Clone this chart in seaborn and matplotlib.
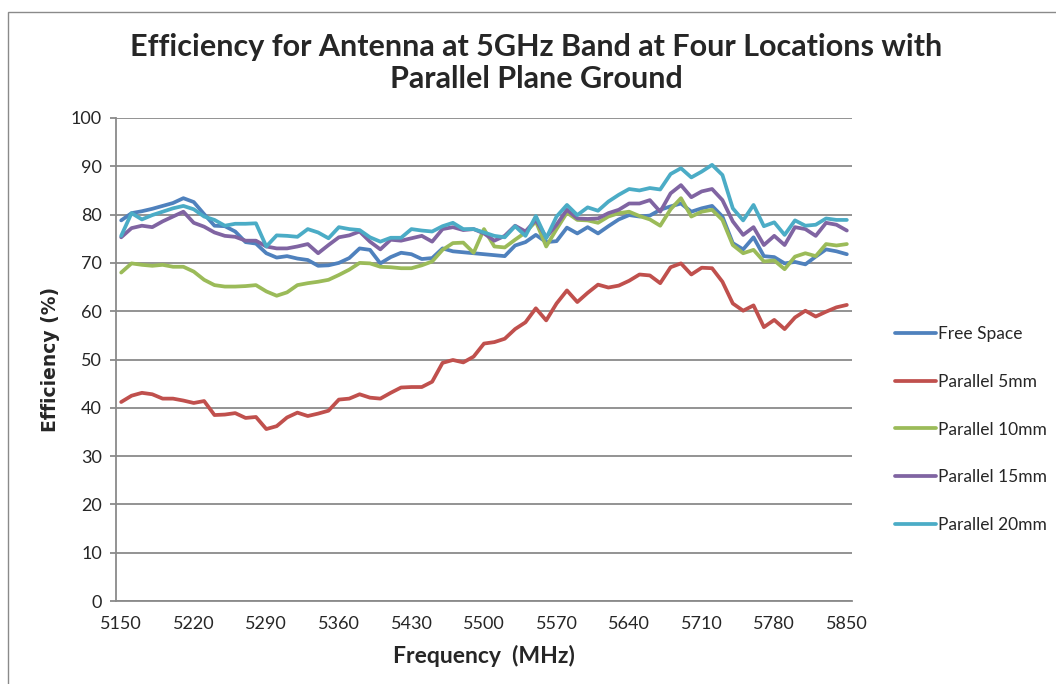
import numpy as np
import pandas as pd
import seaborn as sns
import matplotlib.pyplot as plt
from matplotlib.patches import Rectangle

# frequency axis, one point every 10 MHz
freq = np.arange(5150, 5851, 10)

free_space = [78.8, 80.3, 80.7, 81.2, 81.8, 82.4, 83.4, 82.6, 80.1, 77.7,
              77.6, 76.5, 74.3, 74.0, 72.0, 71.1, 71.4, 70.9, 70.6, 69.4,
              69.5, 70.0, 71.0, 73.0, 72.7, 69.9, 71.2, 72.1, 71.8, 70.8,
              71.0, 73.0, 72.4, 72.2, 72.0, 71.8, 71.6, 71.4, 73.6, 74.3,
              75.8, 74.3, 74.5, 77.3, 76.1, 77.4, 76.1, 77.6, 79.0, 79.9,
              79.6, 79.8, 81.0, 81.7, 82.3, 80.6, 81.3, 81.8, 79.6, 74.1,
              72.8, 75.3, 71.4, 71.2, 69.9, 70.2, 69.7, 71.3, 72.8, 72.4,
              71.8]
parallel_5 = [41.2, 42.5, 43.1, 42.8, 41.9, 41.9, 41.5, 41.0, 41.4, 38.5,
              38.6, 38.9, 37.9, 38.1, 35.6, 36.2, 38.0, 39.0, 38.3, 38.8,
              39.4, 41.7, 41.9, 42.8, 42.1, 41.9, 43.1, 44.2, 44.3, 44.3,
              45.4, 49.3, 49.9, 49.4, 50.6, 53.3, 53.6, 54.3, 56.3, 57.7,
              60.6, 58.1, 61.6, 64.3, 61.9, 63.8, 65.5, 64.9, 65.3, 66.3,
              67.6, 67.4, 65.8, 69.1, 69.9, 67.6, 69.0, 68.9, 66.1, 61.6,
              60.1, 61.2, 56.7, 58.2, 56.3, 58.7, 60.1, 58.9, 59.9, 60.8,
              61.3]
parallel_10 = [68.0, 69.9, 69.6, 69.4, 69.6, 69.2, 69.2, 68.2, 66.5, 65.4,
               65.1, 65.1, 65.2, 65.4, 64.1, 63.2, 63.9, 65.4, 65.8, 66.1,
               66.5, 67.5, 68.6, 70.0, 69.9, 69.2, 69.1, 68.9, 68.9, 69.5,
               70.3, 72.7, 74.1, 74.2, 72.1, 77.0, 73.4, 73.2, 74.8, 76.3,
               78.6, 73.4, 77.0, 80.4, 78.9, 78.8, 78.3, 79.6, 80.3, 80.6,
               79.7, 79.0, 77.7, 81.1, 83.4, 79.6, 80.6, 81.0, 78.9, 73.7,
               72.0, 72.7, 70.3, 70.5, 68.7, 71.3, 72.0, 71.4, 73.9, 73.6,
               73.9]
parallel_15 = [75.3, 77.2, 77.7, 77.4, 78.6, 79.6, 80.6, 78.3, 77.5, 76.3,
               75.6, 75.4, 74.6, 74.6, 73.4, 73.0, 73.0, 73.4, 73.9, 72.0,
               73.7, 75.3, 75.7, 76.5, 74.4, 72.8, 74.8, 74.6, 75.1, 75.6,
               74.4, 77.0, 77.4, 76.8, 77.0, 76.1, 74.6, 75.6, 77.7, 76.5,
               78.9, 75.3, 77.9, 81.0, 79.2, 79.1, 79.2, 80.3, 81.0, 82.3,
               82.3, 83.0, 80.6, 84.4, 86.1, 83.6, 84.8, 85.3, 83.0, 78.6,
               75.8, 77.4, 73.7, 75.6, 73.7, 77.4, 77.0, 75.6, 78.3, 77.9,
               76.7]
parallel_20 = [75.6, 80.3, 79.0, 79.9, 80.6, 81.3, 81.8, 81.1, 79.6, 78.9,
               77.7, 78.1, 78.1, 78.2, 73.4, 75.7, 75.6, 75.4, 77.0, 76.3,
               75.1, 77.4, 77.0, 76.8, 75.3, 74.4, 75.2, 75.2, 77.0, 76.7,
               76.5, 77.6, 78.3, 77.0, 77.0, 76.3, 75.6, 75.3, 77.6, 75.6,
               79.7, 75.1, 79.6, 82.0, 79.9, 81.5, 80.8, 82.7, 84.1, 85.3,
               85.0, 85.5, 85.2, 88.4, 89.6, 87.7, 88.9, 90.3, 88.2, 81.3,
               78.8, 82.0, 77.6, 78.4, 75.8, 78.8, 77.7, 77.9, 79.2, 78.9,
               78.9]

series_names = ["Free Space", "Parallel 5mm", "Parallel 10mm",
                "Parallel 15mm", "Parallel 20mm"]
series_values = [free_space, parallel_5, parallel_10, parallel_15, parallel_20]
colors = ["#4F81BD", "#C0504D", "#9BBB59", "#8064A2", "#4BACC6"]

df = pd.concat([pd.DataFrame({"freq": freq, "eff": v, "series": n})
                for n, v in zip(series_names, series_values)],
               ignore_index=True)

sns.set_style("white")
plt.rcParams['font.family'] = ['Lato', 'DejaVu Sans']

fig = plt.figure(figsize=(10.56, 6.84), dpi=100)
ax = fig.add_axes([116/1056, 83/684, 736/1056, 483/684])

sns.lineplot(data=df, x="freq", y="eff", hue="series",
             hue_order=series_names, palette=colors,
             linewidth=2.7, sort=False, ax=ax)

ax.set_xlim(5145, 5855)
ax.set_ylim(0, 100)
ax.set_xticks(np.arange(5150, 5851, 70))
ax.set_yticks(np.arange(0, 101, 10))
ax.grid(axis="y", color="#8a8a8a", linewidth=1.3)
ax.set_axisbelow(True)
for s in ["top", "right"]:
    ax.spines[s].set_visible(False)
for s in ["left", "bottom"]:
    ax.spines[s].set_color("#8a8a8a")
    ax.spines[s].set_linewidth(1.3)
ax.tick_params(axis="y", length=4, color="#8a8a8a", width=1.3,
               labelsize=13, pad=6, left=True)
ax.tick_params(axis="x", length=0, labelsize=13, pad=11)

ax.set_xlabel("Frequency  (MHz)", fontsize=16.5, fontweight="bold", labelpad=9)
ax.set_ylabel("Efficiency (%)", fontsize=13.5, fontweight="bold",
              family="DejaVu Sans", labelpad=8)

fig.text(0.508, 0.908, "Efficiency for Antenna at 5GHz Band at Four Locations with\nParallel Plane Ground",
         ha="center", va="center", fontsize=22, fontweight="bold",
         linespacing=1.2)

handles, labels = ax.get_legend_handles_labels()
ax.legend(handles, labels, loc="center left", bbox_to_anchor=(879/1056, 0.372),
          bbox_transform=fig.transFigure, frameon=False, fontsize=12.5,
          labelspacing=1.83, handlelength=2.4, handletextpad=0.1)

fig.patches.append(Rectangle((8/1056, -0.1), 1.2, 1.0825, fill=False,
                             edgecolor="#8a8a8a", linewidth=1.0,
                             transform=fig.transFigure))

plt.savefig("out.png", dpi=100)
